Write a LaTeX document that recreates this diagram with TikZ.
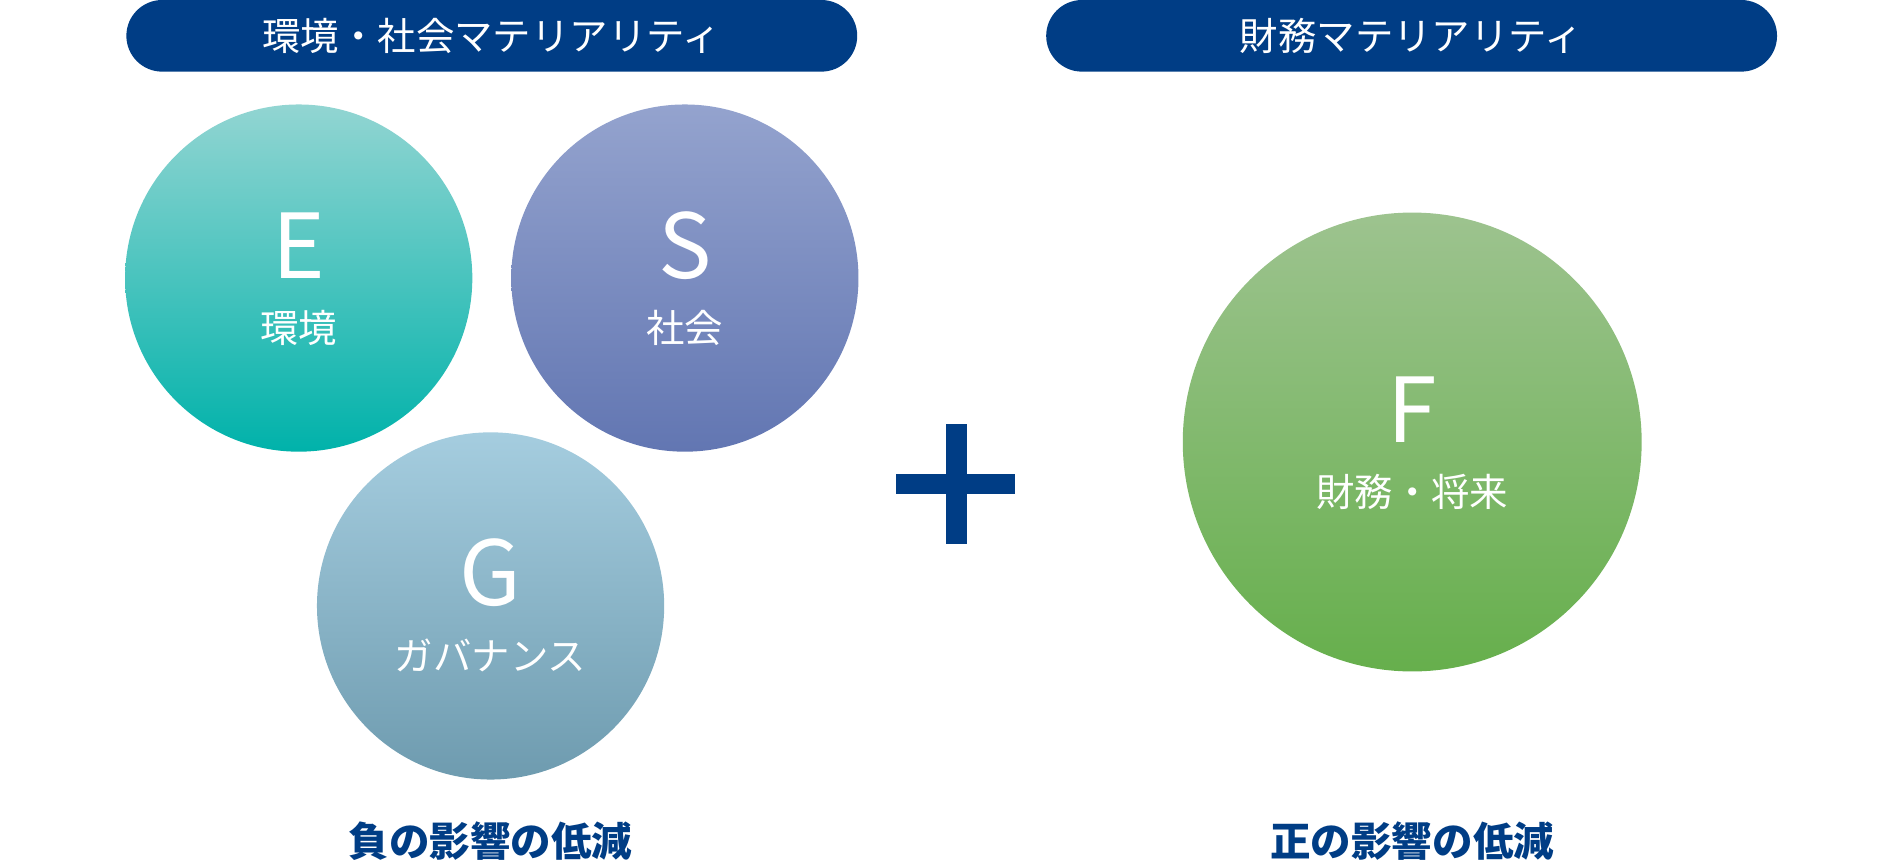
\documentclass[tikz,border=0pt]{standalone}
\usepackage{fontspec}
\setmainfont{Noto Sans CJK JP}
\usetikzlibrary{positioning}
\definecolor{navy}{RGB}{0,61,133}
\definecolor{etop}{RGB}{146,213,210}
\definecolor{ebot}{RGB}{0,178,170}
\definecolor{stop}{RGB}{148,163,206}
\definecolor{sbot}{RGB}{98,118,178}
\definecolor{gtop}{RGB}{165,205,223}
\definecolor{gbot}{RGB}{110,155,175}
\definecolor{ftop}{RGB}{157,195,143}
\definecolor{fbot}{RGB}{102,175,76}
\begin{document}
\begin{tikzpicture}[x=0.02cm, y=-0.02cm,
  pill/.style={fill=navy, rounded corners=0.59cm, minimum width=12.04cm,
               minimum height=1.18cm, text=white, font=\fontsize{18}{20}\selectfont},
  ball/.style={circle, inner sep=0pt},
  letter/.style={text=white, font=\fontsize{42}{44}\selectfont},
  sub/.style={text=white, font=\fontsize{18}{20}\selectfont},
  caption/.style={text=navy, font=\fontsize{19}{22}\selectfont\bfseries}
]
  \useasboundingbox (0,0) rectangle (1568,710);

  % headers
  \node[pill] (esg) at (405,29.5) {環境・社会マテリアリティ};
  \node[pill] (fin) at (1162.5,29.5) {財務マテリアリティ};

  % circles
  \node[ball, minimum size=5.72cm, top color=etop, bottom color=ebot] (env) at (246,229) {};
  \node[ball, minimum size=5.72cm, top color=stop, bottom color=sbot] (soc) at (564,229) {};
  \node[ball, minimum size=5.72cm, top color=gtop, bottom color=gbot] (gov) at (404,499) {};
  \node[ball, minimum size=7.56cm, top color=ftop, bottom color=fbot] (fut) at (1163,364) {};

  \node[letter] at (246,202) {E};
  \node[sub] at (246,270) {環境};
  \node[letter] at (564,202) {S};
  \node[sub] at (564,270) {社会};
  \node[letter] at (404,472) {G};
  \node[sub] at (404,540) {ガバナンス};
  \node[letter] at (1163,337) {F};
  \node[sub] at (1163,405) {財務・将来};

  % plus
  \fill[navy] (779,349) rectangle (796,448);
  \fill[navy] (738,390) rectangle (836,407);

  % captions
  \node[caption] (neg) at (404,693) {負の影響の低減};
  \node[caption] (pos) at (1163,693) {正の影響の低減};
\end{tikzpicture}
\end{document}
